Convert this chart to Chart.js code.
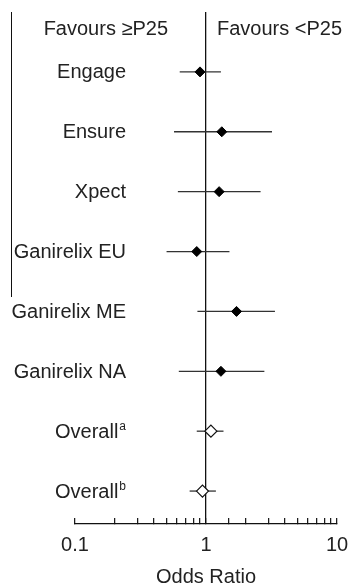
<!DOCTYPE html>
<html>
<head>
<meta charset="utf-8">
<script src="https://cdn.jsdelivr.net/npm/chart.js@4.4.1/dist/chart.umd.min.js"></script>
<style>
  html, body { margin: 0; padding: 0; background: #fff; overflow: hidden; }
  #wrap { position: relative; width: 348px; height: 583px; }
  #forest { display: block; }
  #rule { position: absolute; left: 11px; top: 12px; height: 285px; border-left: 1.5px solid #111; }
</style>
</head>
<body>
<div id="wrap">
  <canvas id="forest" width="348" height="583"></canvas>
  <div id="rule"></div>
</div>
<script>
// Study rows, top to bottom
const studies    = ['Engage', 'Ensure', 'Xpect', 'Ganirelix EU', 'Ganirelix ME', 'Ganirelix NA', 'Overall', 'Overall'];
const studyNotes = ['', '', '', '', '', '', 'a', 'b'];
const pooled     = [false, false, false, false, false, false, true, true];

// Odds ratios with 95% confidence limits
const oddsRatio = [0.90, 1.32, 1.26, 0.85, 1.71, 1.30, 1.09, 0.94];
const ciLower   = [0.63, 0.57, 0.61, 0.50, 0.86, 0.62, 0.85, 0.75];
const ciUpper   = [1.30, 3.19, 2.61, 1.51, 3.36, 2.79, 1.36, 1.19];

const sideLabels = ['Favours \u2265P25', 'Favours <P25'];
const axisTicks  = [0.1, 1, 10];

const FONT = '"Liberation Sans", Arial, sans-serif';
const TEXT = '#222';

const rowIdx = studies.map((_, i) => i);

const ciSets = rowIdx.map(i => ({
  type: 'scatter',
  showLine: true,
  data: [{ x: ciLower[i], y: i }, { x: ciUpper[i], y: i }],
  borderColor: '#333',
  borderWidth: 1.3,
  pointRadius: 0,
  order: 2
}));

const studyPoints = {
  type: 'scatter',
  data: rowIdx.filter(i => !pooled[i]).map(i => ({ x: oddsRatio[i], y: i })),
  pointStyle: 'rectRot',
  pointRadius: 5,
  backgroundColor: '#000',
  borderColor: '#000',
  borderWidth: 1,
  order: 0
};

const pooledPoints = {
  type: 'scatter',
  data: rowIdx.filter(i => pooled[i]).map(i => ({ x: oddsRatio[i], y: i })),
  pointStyle: 'rectRot',
  pointRadius: 6,
  backgroundColor: '#fff',
  borderColor: '#111',
  borderWidth: 1.2,
  order: 0
};

// Row labels (with superscript notes) and the two header captions
const labelPlugin = {
  id: 'rowLabels',
  afterDraw(chart) {
    const { ctx, scales: { x, y } } = chart;
    ctx.save();
    ctx.fillStyle = TEXT;
    ctx.textBaseline = 'middle';
    const right = 126;
    studies.forEach((name, i) => {
      const py = y.getPixelForValue(i) + 1;
      let endX = right;
      if (studyNotes[i]) {
        ctx.font = '12px ' + FONT;
        const w = ctx.measureText(studyNotes[i]).width;
        ctx.textAlign = 'right';
        ctx.fillText(studyNotes[i], right, py - 5);
        endX = right - w - 1;
      }
      ctx.font = '20px ' + FONT;
      ctx.textAlign = 'right';
      ctx.fillText(name, endX, py);
    });
    const nullX = x.getPixelForValue(1);
    const hy = y.getPixelForValue(-0.71);
    ctx.font = '20px ' + FONT;
    ctx.textAlign = 'right';
    ctx.fillText(sideLabels[0], nullX - 38, hy);
    ctx.textAlign = 'left';
    ctx.fillText(sideLabels[1], nullX + 11, hy);
    ctx.restore();
  }
};

const isMajor = v => axisTicks.some(t => Math.abs(Math.log10(v) - Math.log10(t)) < 1e-6);

new Chart(document.getElementById('forest'), {
  type: 'scatter',
  data: { datasets: [...ciSets, studyPoints, pooledPoints] },
  options: {
    responsive: false,
    animation: false,
    events: [],
    layout: { padding: { left: 75, right: 0, top: 12, bottom: 0 } },
    plugins: { legend: { display: false }, tooltip: { enabled: false } },
    scales: {
      x: {
        type: 'logarithmic',
        position: 'bottom',
        min: 0.1,
        max: 10,
        border: { color: '#111', width: 1.3 },
        grid: {
          color: ctx => (ctx.tick && Math.abs(ctx.tick.value - 1) < 1e-9) ? '#111' : 'rgba(0,0,0,0)',
          lineWidth: 1.3,
          tickColor: '#111',
          tickLength: -6,
          tickWidth: 1.2
        },
        ticks: {
          autoSkip: false,
          maxRotation: 0,
          padding: 15,
          color: TEXT,
          font: { family: FONT, size: 20 },
          callback: v => isMajor(v) ? String(axisTicks.find(t => Math.abs(Math.log10(v) - Math.log10(t)) < 1e-6)) : ''
        },
        title: {
          display: true,
          text: 'Odds Ratio',
          color: TEXT,
          font: { family: FONT, size: 20 },
          padding: { top: 0, bottom: -6 }
        },
        afterFit(scale) {
          // keep the "10" label flush with the right edge and fix the axis band height
          scale.paddingRight = 11;
          scale.height = 59;
        }
      },
      y: {
        type: 'linear',
        reverse: true,
        min: -1,
        max: 7.55,
        display: false
      }
    }
  },
  plugins: [labelPlugin]
});
</script>
</body>
</html>
